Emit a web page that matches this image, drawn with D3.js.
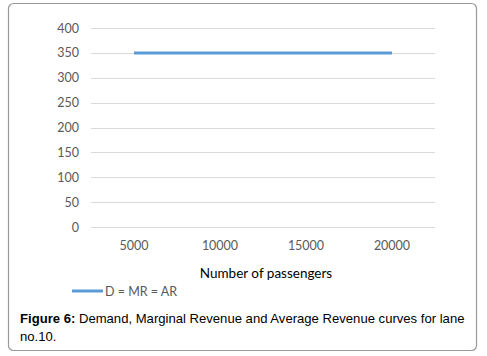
<!DOCTYPE html>
<html lang="en">
<head>
    <script src="https://d3js.org/d3.v7.min.js"></script>
    <style>
        body { margin: 0; background: #fff; }
    </style>
</head>
<body>
    <script>
        // chart data
        const categories = ["5000", "10000", "15000", "20000"];
        const revenue = [350, 350, 350, 350];
        const yTicks = [0, 50, 100, 150, 200, 250, 300, 350, 400];
        const seriesName = "D = MR = AR";
        const xTitle = "Number of passengers";

        const width = 487, height = 356;
        const plot = { left: 91, right: 435, top: 28, bottom: 227 };
        const axisFont = "Lato, 'Open Sans', sans-serif";
        const textColor = "#595959";
        const lineColor = "#5b9bd5";

        const svg = d3.select("body").append("svg")
            .attr("width", width)
            .attr("height", height);

        // rounded frame
        svg.append("rect")
            .attr("x", 8.5).attr("y", 3.5)
            .attr("width", 468).attr("height", 347)
            .attr("rx", 5)
            .attr("fill", "#fff")
            .attr("stroke", "#999")
            .attr("stroke-width", 1.2);

        const x = d3.scaleBand()
            .domain(categories)
            .range([plot.left, plot.right]);

        const y = d3.scaleLinear()
            .domain([0, 400])
            .range([plot.bottom, plot.top]);

        // gridlines
        svg.append("g")
            .selectAll("line")
            .data(yTicks)
            .enter()
            .append("line")
            .attr("x1", plot.left).attr("x2", plot.right)
            .attr("y1", d => Math.round(y(d)) + 0.5)
            .attr("y2", d => Math.round(y(d)) + 0.5)
            .attr("stroke", "#d9d9d9")
            .attr("stroke-width", 1);

        // y axis labels
        const yAxis = d3.axisLeft(y).tickValues(yTicks).tickSize(0).tickPadding(12);
        const gy = svg.append("g")
            .attr("transform", "translate(" + plot.left + ",0)")
            .call(yAxis);
        gy.select(".domain").remove();
        gy.selectAll("text")
            .style("font-family", axisFont)
            .style("font-size", "12.5px")
            .attr("fill", textColor);

        // x axis labels
        const xAxis = d3.axisBottom(x).tickSize(0).tickPadding(14);
        const gx = svg.append("g")
            .attr("transform", "translate(0," + plot.bottom + ")")
            .call(xAxis);
        gx.select(".domain").remove();
        gx.selectAll("text")
            .style("font-family", axisFont)
            .style("font-size", "12.5px")
            .attr("fill", textColor);

        // axis title
        svg.append("text")
            .attr("x", 266).attr("y", 278)
            .attr("text-anchor", "middle")
            .style("font-family", axisFont)
            .style("font-size", "13.5px")
            .attr("fill", "#000")
            .text(xTitle);

        // the line
        const line = d3.line()
            .x((d, i) => x(categories[i]) + x.bandwidth() / 2)
            .y(d => y(d));

        svg.append("path")
            .datum(revenue)
            .attr("fill", "none")
            .attr("stroke", lineColor)
            .attr("stroke-width", 3)
            .attr("d", line);

        // legend
        svg.append("line")
            .attr("x1", 72).attr("x2", 103)
            .attr("y1", 291).attr("y2", 291)
            .attr("stroke", lineColor)
            .attr("stroke-width", 3);
        svg.append("text")
            .attr("x", 105).attr("y", 295.5)
            .style("font-family", axisFont)
            .style("font-size", "12.5px")
            .attr("fill", textColor)
            .text(seriesName);

        // caption
        const cap = svg.append("text")
            .attr("x", 20).attr("y", 323)
            .style("font-family", "'Liberation Sans', Arial, sans-serif")
            .style("font-size", "13.1px")
            .attr("fill", "#000");
        cap.append("tspan").attr("font-weight", "bold").text("Figure 6:");
        cap.append("tspan").text(" Demand, Marginal Revenue and Average Revenue curves for lane");
        svg.append("text")
            .attr("x", 20).attr("y", 341)
            .style("font-family", "'Liberation Sans', Arial, sans-serif")
            .style("font-size", "13.1px")
            .attr("fill", "#000")
            .text("no.10.");
    </script>
</body>
</html>
